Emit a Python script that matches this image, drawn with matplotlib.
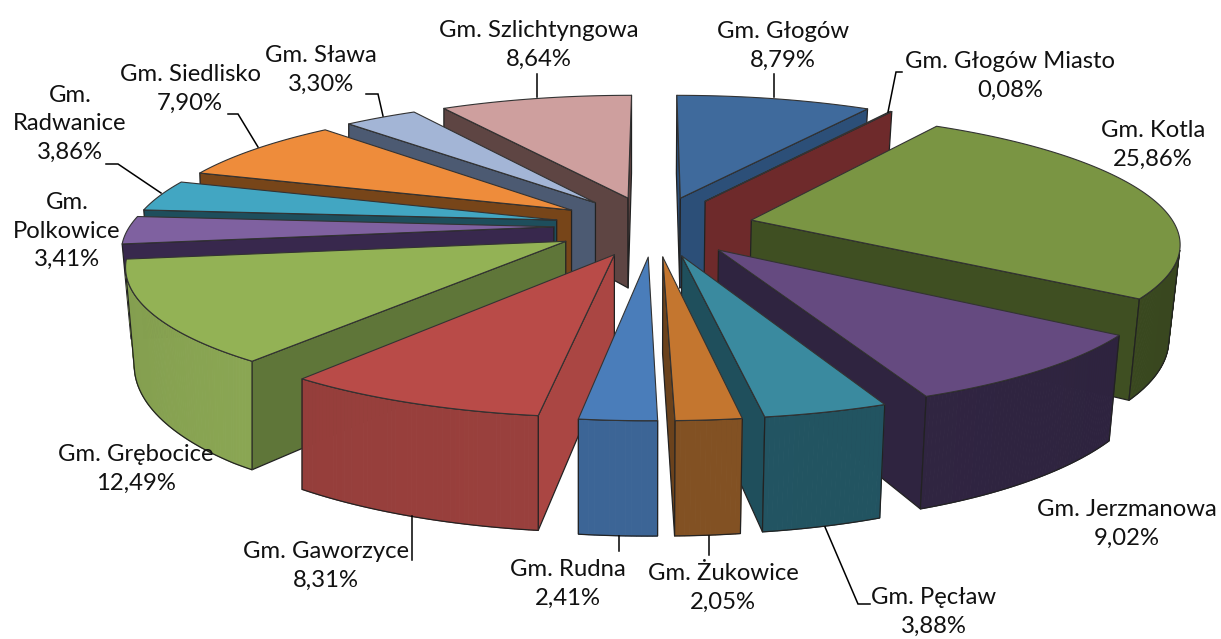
import numpy as np
import matplotlib
matplotlib.use("Agg")
import matplotlib.pyplot as plt
from matplotlib.patches import Polygon

names = ["Gm. Głogów", "Gm. Głogów Miasto", "Gm. Kotla", "Gm. Jerzmanowa", "Gm. Pęcław",
         "Gm. Żukowice", "Gm. Rudna", "Gm. Gaworzyce", "Gm. Grębocice", "Gm.\nPolkowice",
         "Gm.\nRadwanice", "Gm. Siedlisko", "Gm. Sława", "Gm. Szlichtyngowa"]
values = [8.79, 0.08, 25.86, 9.02, 3.88, 2.05, 2.41, 8.31, 12.49, 3.41, 3.86, 7.90, 3.30, 8.64]
top_colors = ["#3F6A9C", "#8E3533", "#7A9543", "#654A80", "#3A8A9F", "#C4762F", "#4A7DBA",
              "#B94B48", "#93B255", "#7F61A0", "#42A6C2", "#EE8C3B", "#A3B5D6", "#CE9F9E"]
wall_colors = ["#2C4F78", "#6E2A2B", "#3B4A20", "#2F2440", "#21525F", "#7E4F22", "#3A6292",
               "#953E3B", "#8AA653", "#38284D", "#1E4E5C", "#774519", "#4C5A72", "#5E4543"]
side_colors = ["#2C4F78", "#6E2A2B", "#3F4F22", "#2F2440", "#1F4F5C", "#6B421C", "#2F5380",
               "#AA4643", "#5F7639", "#38284D", "#1E4E5C", "#774519", "#4C5A72", "#5E4543"]
# label text centre (px) and leader-line vertices (px), purely layout
label_xy = [(783, 46), (1010, 76), (1153, 145), (1127, 524), (934, 612), (723, 588), (568, 584),
            (326, 566), (136, 469), (67, 231), (70, 124), (190, 89), (321, 70), (539, 45)]
leaders = [[(774, 97), (774, 74)], [(888, 112), (896, 72), (902, 72)], None, None,
           [(825, 527), (858, 604), (870, 604)], [(709, 536), (709, 555)], [(619, 536), (619, 551)],
           [(412, 516), (412, 560)], None, None,
           [(161, 193), (118, 164), (106, 164)], [(258, 147), (238, 114), (228, 114)],
           [(383, 116), (378, 94), (366, 94)], [(537, 97), (537, 74)]]

CX, CY = 654, 226
RX, RY = 424, 127
EXPL, PERSP, HEIGHT, ZPERSP = 0.236, 0.157, 93, 0.022


def project(x, y, z=0.0):
    """World disc coords to pixels; z=0 top surface, z=1 bottom."""
    s = 1.0 / (1.0 + PERSP * y)
    off = RX * x * s
    if off > 0:
        off /= 1.0 + ZPERSP * z
    else:
        off += z * 0.08 * max(0.0, -off - 420)
    return (CX + off, CY - RY * y * s + HEIGHT * s * z)


def area(poly):
    p = np.array(poly)
    x, y = p[:, 0], p[:, 1]
    return np.sum(x * np.roll(y, -1) - np.roll(x, -1) * y)


def shade(col, f):
    rgb = np.array(matplotlib.colors.to_rgb(col))
    return tuple(np.clip(rgb * f, 0, 1))


fig = plt.figure(figsize=(12.21, 6.39), dpi=100)
ax = fig.add_axes([0, 0, 1, 1])
ax.set_xlim(0, 1221)
ax.set_ylim(639, 0)
ax.axis("off")

edges = np.radians(np.concatenate([[0], np.cumsum(values)]) * 3.6 / (sum(values) / 100))
mids = (edges[:-1] + edges[1:]) / 2
order = np.argsort(-np.cos(mids), kind="stable")
EC = "#222222"
zc = 1
for i in order:
    a0, a1, m = edges[i], edges[i + 1], mids[i]
    ox, oy = EXPL * np.sin(m), EXPL * np.cos(m)
    n = max(3, int(np.degrees(a1 - a0)) * 2)
    arc = np.linspace(a0, a1, n)
    px, py = ox + np.sin(arc), oy + np.cos(arc)

    # radial side walls, back faces culled
    for a, sign in ((a0, -1), (a1, 1)):
        ex, ey = ox + np.sin(a), oy + np.cos(a)
        poly = [project(ox, oy, 0), project(ex, ey, 0), project(ex, ey, 1), project(ox, oy, 1)]
        if area(poly) * sign > 0:
            ax.add_patch(Polygon(poly, closed=True, fc=side_colors[i], ec=EC, lw=0.9, zorder=zc,
                                 joinstyle="round"))
            zc += 1

    # outer wall as gradient strips, only front-facing ones
    vis = []
    for j in range(n - 1):
        poly = [project(px[j], py[j], 0), project(px[j + 1], py[j + 1], 0),
                project(px[j + 1], py[j + 1], 1), project(px[j], py[j], 1)]
        if area(poly) < 0:
            vis.append(j)
            f = 0.95 + 0.08 * np.cos(arc[j]) ** 2
            c = shade(wall_colors[i], f)
            ax.add_patch(Polygon(poly, closed=True, fc=c, ec=c, lw=0.7, zorder=zc))
    if vis:
        idx = vis + [vis[-1] + 1]
        outline = [project(px[j], py[j], 0) for j in idx] + [project(px[j], py[j], 1) for j in idx[::-1]]
        ax.add_patch(Polygon(outline, closed=True, fc="none", ec=EC, lw=0.9, zorder=zc + 0.5))
        zc += 1

    # top surface
    poly = [project(ox, oy, 0)] + [project(x, y, 0) for x, y in zip(px, py)]
    ax.add_patch(Polygon(poly, closed=True, fc=top_colors[i], ec="#333333", lw=0.8, zorder=zc,
                         joinstyle="round"))
    zc += 1

for i, name in enumerate(names):
    txt = f"{name}\n{values[i]:.2f}%".replace(".", ",").replace("Gm,", "Gm.")
    ax.text(*label_xy[i], txt, ha="center", va="center", fontsize=17.2, color="#111111",
            linespacing=1.42, zorder=zc + 5, family=["Lato", "DejaVu Sans"])
    if leaders[i]:
        xs, ys = zip(*leaders[i])
        ax.plot(xs, ys, color="black", lw=1.1, zorder=zc + 4, solid_joinstyle="miter")

fig.savefig("out.png", dpi=100, facecolor="white")
